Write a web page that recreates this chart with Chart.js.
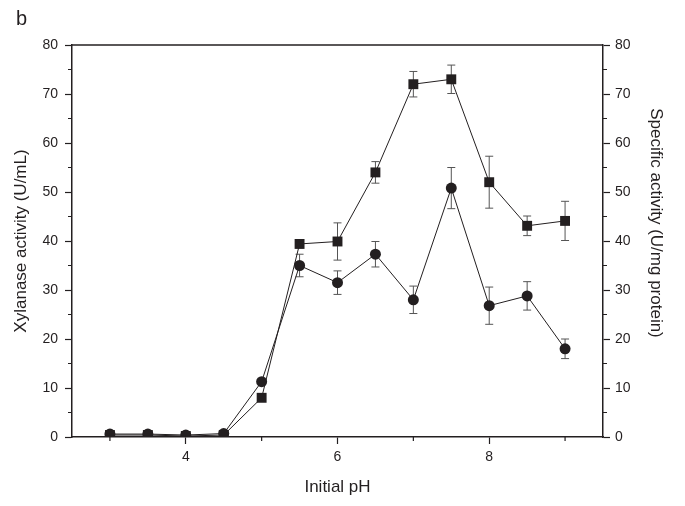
<!DOCTYPE html>
<html>
<head>
<meta charset="utf-8">
<script src="https://cdn.jsdelivr.net/npm/chart.js@4.4.1/dist/chart.umd.min.js"></script>
<style>
  body { margin: 0; background: #fff; }
  #wrap { width: 685px; height: 506px; position: relative; }
</style>
</head>
<body>
<div id="wrap"><canvas id="ph-chart"></canvas></div>
<script>
// data
const phValues = [3, 3.5, 4, 4.5, 5, 5.5, 6, 6.5, 7, 7.5, 8, 8.5, 9]
const xylanaseActivity = [0.6, 0.6, 0.4, 0.7, 11.3, 35.0, 31.5, 37.3, 28.0, 50.8, 26.8, 28.8, 18.0]
const xylanaseErr = [0, 0, 0, 0, 0, 2.3, 2.4, 2.6, 2.8, 4.2, 3.8, 2.9, 2.0]
const specificActivity = [0.4, 0.4, 0.2, 0.4, 8.0, 39.4, 39.9, 54.0, 72.0, 73.0, 52.0, 43.1, 44.1]
const specificErr = [0, 0, 0, 0, 0, 0.8, 3.8, 2.2, 2.6, 2.9, 5.3, 2.0, 4.0]
const xMinorTicks = [3, 5, 7, 9]
const yMinorTicks = [5, 15, 25, 35, 45, 55, 65, 75]

const ink = '#231f20'
const fontFam = "'Liberation Sans', Arial, sans-serif"

// error bars, drawn under the markers
let errorBars = {
  id: 'errorBars',
  beforeDatasetsDraw(chart) {
    let ctx = chart.ctx
    let sets = [[xylanaseActivity, xylanaseErr, chart.scales.y], [specificActivity, specificErr, chart.scales.y2]]
    ctx.save()
    ctx.strokeStyle = '#555'
    ctx.lineWidth = 1
    sets.forEach(([vals, errs, ys]) => {
      vals.forEach((v, i) => {
        if (!errs[i]) return
        let px = chart.scales.x.getPixelForValue(phValues[i])
        let top = ys.getPixelForValue(v + errs[i])
        let bot = ys.getPixelForValue(v - errs[i])
        ctx.beginPath()
        ctx.moveTo(px, top); ctx.lineTo(px, bot)
        ctx.moveTo(px - 4, top); ctx.lineTo(px + 4, top)
        ctx.moveTo(px - 4, bot); ctx.lineTo(px + 4, bot)
        ctx.stroke()
      })
    })
    ctx.restore()
  }
}

// frame top line, minor ticks, right title (sits above centre in the original) and panel letter
let frameBits = {
  id: 'frameBits',
  afterDraw(chart) {
    let ctx = chart.ctx
    let a = chart.chartArea
    let sx = chart.scales.x, sy = chart.scales.y, sy2 = chart.scales.y2
    ctx.save()
    ctx.strokeStyle = ink
    ctx.lineWidth = 1.5
    ctx.beginPath()
    ctx.moveTo(a.left, a.top); ctx.lineTo(a.right, a.top)
    ctx.stroke()
    ctx.lineWidth = 1.2
    ctx.beginPath()
    xMinorTicks.forEach(v => {
      let px = sx.getPixelForValue(v)
      ctx.moveTo(px, a.bottom); ctx.lineTo(px, a.bottom + 4)
    })
    yMinorTicks.forEach(v => {
      let py = sy.getPixelForValue(v)
      ctx.moveTo(a.left - 4, py); ctx.lineTo(a.left, py)
      let py2 = sy2.getPixelForValue(v)
      ctx.moveTo(a.right, py2); ctx.lineTo(a.right + 4, py2)
    })
    ctx.stroke()
    ctx.fillStyle = ink
    ctx.font = '20px ' + fontFam
    ctx.textBaseline = 'alphabetic'
    ctx.fillText('b', 16, 25)

    ctx.translate(656, 223)
    ctx.rotate(Math.PI / 2)
    ctx.font = '17px ' + fontFam
    ctx.textAlign = 'center'
    ctx.textBaseline = 'middle'
    ctx.fillText('Specific activity (U/mg protein)', 0, 0)
    ctx.restore()
  }
}

let axisGrid = { drawOnChartArea: false, drawTicks: true, tickLength: 7, color: ink, tickWidth: 1.2 }
let axisBorder = { display: true, color: ink, width: 1.5 }
let tickFont = { family: fontFam, size: 14 }
let titleFont = { family: fontFam, size: 17 }

let chart = new Chart(document.querySelector('#ph-chart'), {
  type: 'line',
  data: {
    datasets: [{
      label: 'Xylanase activity',
      data: phValues.map((x, i) => ({ x: x, y: xylanaseActivity[i] })),
      yAxisID: 'y',
      borderColor: ink,
      borderWidth: 1,
      backgroundColor: ink,
      pointStyle: 'circle',
      pointRadius: 5.5,
      pointBorderWidth: 0,
      tension: 0
    }, {
      label: 'Specific activity',
      data: phValues.map((x, i) => ({ x: x, y: specificActivity[i] })),
      yAxisID: 'y2',
      borderColor: ink,
      borderWidth: 1,
      backgroundColor: ink,
      pointStyle: 'rect',
      pointRadius: 7,
      pointBorderWidth: 0,
      tension: 0
    }]
  },
  options: {
    responsive: true,
    maintainAspectRatio: false,
    animation: false,
    layout: { padding: { top: 45, left: 0, right: 0, bottom: 0 } },
    plugins: { legend: { display: false }, tooltip: { enabled: false } },
    scales: {
      x: {
        type: 'linear',
        min: 2.5,
        max: 9.5,
        grid: axisGrid,
        border: axisBorder,
        ticks: { stepSize: 2, includeBounds: false, color: ink, font: tickFont, padding: 5, maxRotation: 0 },
        title: { display: true, text: 'Initial pH', color: ink, font: titleFont, padding: { top: 0, bottom: 8 } },
        afterFit: s => { s.height = 69 }
      },
      y: {
        position: 'left',
        min: 0,
        max: 80,
        grid: axisGrid,
        border: axisBorder,
        ticks: { stepSize: 10, color: ink, font: tickFont, padding: 7 },
        title: { display: true, text: 'Xylanase activity (U/mL)', color: ink, font: titleFont, padding: { top: 11, bottom: 0 } },
        afterFit: s => { s.width = 72 }
      },
      y2: {
        position: 'right',
        min: 0,
        max: 80,
        grid: axisGrid,
        border: axisBorder,
        ticks: { stepSize: 10, color: ink, font: tickFont, padding: 5 },
        afterFit: s => { s.width = 82 }
      }
    }
  },
  plugins: [errorBars, frameBits]
})
</script>
</body>
</html>
